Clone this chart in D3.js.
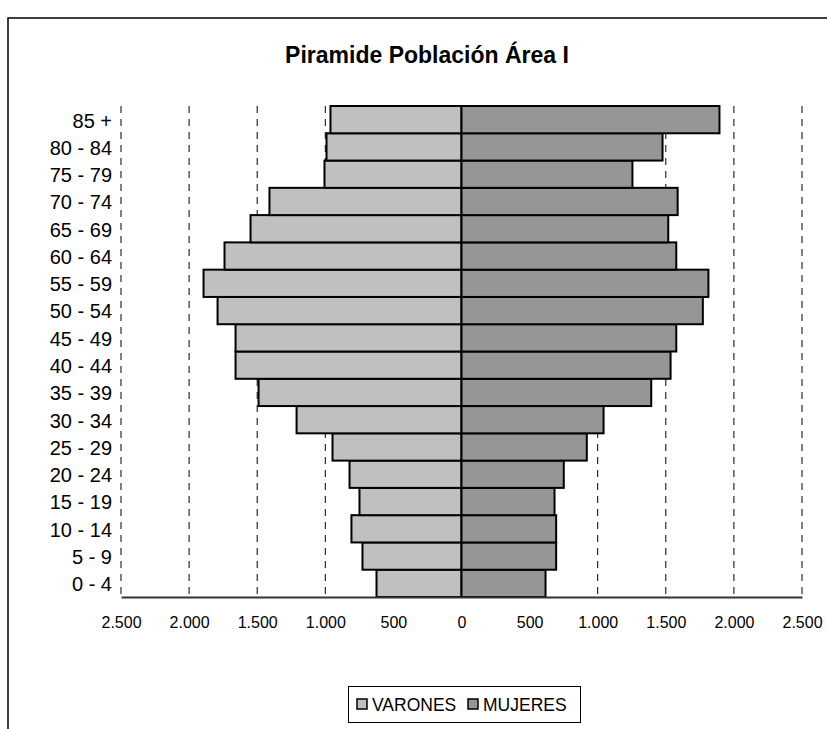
<!DOCTYPE html>
<html>
<head>
<meta charset="utf-8">
<script src="https://cdn.jsdelivr.net/npm/d3@7"></script>
<style>
  html, body { margin: 0; padding: 0; background: #fff; }
  svg { display: block; font-family: "Liberation Sans", Arial, sans-serif; }
</style>
</head>
<body>
<svg id="chart" width="827" height="729"></svg>
<script>
// ---- data (bottom to top) ----
const categories = ["0 - 4", "5 - 9", "10 - 14", "15 - 19", "20 - 24", "25 - 29", "30 - 34", "35 - 39",
  "40 - 44", "45 - 49", "50 - 54", "55 - 59", "60 - 64", "65 - 69", "70 - 74", "75 - 79", "80 - 84", "85 +"];
const varones = [624, 727, 808, 749, 822, 947, 1211, 1490, 1659, 1659, 1791, 1894, 1740, 1549, 1410, 1006, 991, 962];
const mujeres = [617, 695, 695, 683, 751, 920, 1043, 1393, 1535, 1577, 1772, 1813, 1577, 1518, 1587, 1255, 1476, 1894];
const xTicks = [-2500, -2000, -1500, -1000, -500, 0, 500, 1000, 1500, 2000, 2500];
const seriesNames = ["VARONES", "MUJERES"];
const title = "Piramide Población Área I";

const colors = { VARONES: "#C0C0C0", MUJERES: "#969696" };

const svg = d3.select("#chart");

// outer frame
svg.append("rect").attr("x", 8).attr("y", 18).attr("width", 900).attr("height", 800)
  .attr("fill", "none").attr("stroke", "#000").attr("stroke-width", 1.5);

// title
svg.append("text").attr("x", 427).attr("y", 63).attr("text-anchor", "middle")
  .attr("font-size", 23).attr("font-weight", "bold").attr("fill", "#000").text(title);

const x = d3.scaleLinear().domain([-2500, 2500]).range([121, 802]);
const y = d3.scaleBand().domain(categories).range([597, 106]).padding(0);

const locale = d3.formatLocale({ decimal: ",", thousands: ".", grouping: [3], currency: ["", "€"] });
const fmt = locale.format(",d");

// gridlines
svg.append("g").selectAll("line").data(xTicks.filter(d => d !== 0)).join("line")
  .attr("x1", d => x(d)).attr("x2", d => x(d))
  .attr("y1", 106).attr("y2", 597)
  .attr("stroke", "#000").attr("stroke-width", 1).attr("stroke-dasharray", "7,6");

// bars
const rows = categories.map((c, i) => ({ c, v: varones[i], m: mujeres[i] }));
const gb = svg.append("g");
gb.selectAll("rect.v").data(rows).join("rect").attr("class", "v")
  .attr("x", d => x(-d.v)).attr("width", d => x(0) - x(-d.v))
  .attr("y", d => y(d.c)).attr("height", y.bandwidth())
  .attr("fill", colors.VARONES).attr("stroke", "#000").attr("stroke-width", 2);
gb.selectAll("rect.m").data(rows).join("rect").attr("class", "m")
  .attr("x", x(0)).attr("width", d => x(d.m) - x(0))
  .attr("y", d => y(d.c)).attr("height", y.bandwidth())
  .attr("fill", colors.MUJERES).attr("stroke", "#000").attr("stroke-width", 2);

// x axis
const xAxis = d3.axisBottom(x).tickValues(xTicks).tickSize(0).tickPadding(20)
  .tickFormat(d => fmt(Math.abs(d)));
const gx = svg.append("g").attr("transform", "translate(0,597)").call(xAxis);
gx.select(".domain").attr("stroke", "#333").attr("stroke-width", 2);
gx.selectAll("text").attr("font-size", 16).attr("fill", "#000")
  .attr("font-family", "'Liberation Sans', Arial, sans-serif");

// y axis labels
const yAxis = d3.axisLeft(y).tickSize(0).tickPadding(9);
const gy = svg.append("g").attr("transform", "translate(121,1.5)").call(yAxis);
gy.select(".domain").remove();
gy.selectAll("text").attr("font-size", 20).attr("fill", "#000")
  .attr("font-family", "'Liberation Sans', Arial, sans-serif");

// legend
const lg = svg.append("g");
lg.append("rect").attr("x", 348.5).attr("y", 686.5).attr("width", 232).attr("height", 36)
  .attr("fill", "#fff").attr("stroke", "#000").attr("stroke-width", 1);
const legendX = [357, 468];
seriesNames.forEach((s, i) => {
  lg.append("rect").attr("x", legendX[i]).attr("y", 699).attr("width", 10).attr("height", 10)
    .attr("fill", colors[s]).attr("stroke", "#000").attr("stroke-width", 1.5);
  lg.append("text").attr("x", legendX[i] + 15).attr("y", 711)
    .attr("font-size", 17.5).attr("fill", "#000").text(s);
});
</script>
</body>
</html>
